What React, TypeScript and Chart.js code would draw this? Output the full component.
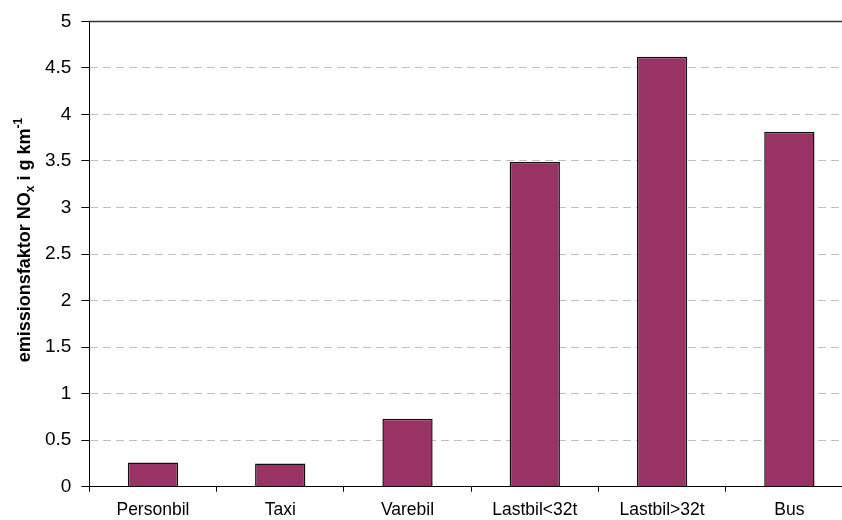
import React, { useEffect, useRef } from "react";
import { Chart, registerables } from "chart.js";

Chart.register(...registerables);

const categories = ["Personbil", "Taxi", "Varebil", "Lastbil<32t", "Lastbil>32t", "Bus"];
const noxValues = [0.26, 0.25, 0.73, 3.49, 4.62, 3.815];
const yMin = 0;
const yMax = 5;
const yStep = 0.5;
const titleParts = [
  { text: "emissionsfaktor NO", kind: "normal" },
  { text: "x", kind: "sub" },
  { text: " i g km", kind: "normal" },
  { text: "-1", kind: "sup" },
];

const FONT = "'Liberation Sans', Arial, sans-serif";

const titlePlugin = {
  id: "yTitleRich",
  afterDraw(chart: any) {
    const ctx = chart.ctx as CanvasRenderingContext2D;
    const area = chart.chartArea;
    // top frame line
    ctx.save();
    ctx.strokeStyle = "#333333";
    ctx.lineWidth = 1.5;
    ctx.beginPath();
    ctx.moveTo(area.left, area.top);
    ctx.lineTo(area.right, area.top);
    ctx.stroke();
    ctx.restore();

    const big = `bold 18px ${FONT}`;
    const small = `bold 12px ${FONT}`;
    ctx.save();
    let total = 0;
    const widths = titleParts.map((p) => {
      ctx.font = p.kind === "normal" ? big : small;
      const w = ctx.measureText(p.text).width;
      total += w;
      return w;
    });
    ctx.translate(30, 240);
    ctx.rotate(-Math.PI / 2);
    ctx.fillStyle = "#000";
    ctx.textBaseline = "alphabetic";
    ctx.textAlign = "left";
    let x = -total / 2;
    titleParts.forEach((p, i) => {
      ctx.font = p.kind === "normal" ? big : small;
      const dy = p.kind === "sub" ? 4 : p.kind === "sup" ? -8 : 0;
      ctx.fillText(p.text, x, dy);
      x += widths[i];
    });
    ctx.restore();
  },
};

export default function App() {
  const ref = useRef<HTMLCanvasElement | null>(null);
  useEffect(() => {
    if (!ref.current) return;
    const chart = new Chart(ref.current, {
      type: "bar",
      data: {
        labels: categories,
        datasets: [
          {
            data: noxValues,
            backgroundColor: "#993366",
            borderColor: "#111111",
            borderWidth: 1.5,
            barPercentage: 0.395,
            categoryPercentage: 1,
          },
        ],
      },
      options: {
        responsive: false,
        animation: false,
        layout: { padding: { top: 18.7, left: 0, right: 9, bottom: 0 } },
        plugins: { legend: { display: false }, tooltip: { enabled: false } },
        scales: {
          x: {
            grid: {
              drawOnChartArea: false,
              offset: true,
              tickLength: 5,
              tickColor: "#000",
            },
            border: { color: "#000", width: 1 },
            ticks: {
              color: "#000",
              font: { family: FONT, size: 17.5 },
              padding: 8,
              maxRotation: 0,
              autoSkip: false,
            },
            afterFit: (s: any) => {
              s.height = 33.3;
            },
          },
          y: {
            min: yMin,
            max: yMax,
            grid: {
              color: (c: any) =>
                c.tick && (c.tick.value === yMax || c.tick.value === yMin)
                  ? "rgba(0,0,0,0)"
                  : "#c0c0c0",
              tickLength: 8,
              tickColor: "#000",
              tickWidth: 1,
            },
            border: { color: "#000", width: 1, dash: [8, 5] },
            ticks: {
              stepSize: yStep,
              color: "#000",
              font: { family: FONT, size: 19 },
              padding: 10,
              callback: (v: any) => String(v),
            },
            afterFit: (s: any) => {
              s.width = 89.3;
            },
          },
        },
      },
      plugins: [titlePlugin],
    });
    return () => chart.destroy();
  }, []);
  return (
    <div
      style={{
        position: "fixed",
        left: 0,
        top: 0,
        width: 842,
        height: 520,
        overflow: "hidden",
        background: "#fff",
      }}
    >
      <canvas ref={ref} width={862} height={520} style={{ display: "block" }} />
    </div>
  );
}
